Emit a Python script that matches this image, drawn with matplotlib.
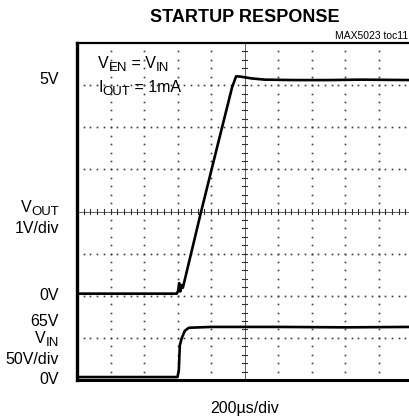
import matplotlib
matplotlib.use("Agg")
import matplotlib.pyplot as plt
import numpy as np

plt.rcParams['font.family'] = ['Liberation Sans', 'DejaVu Sans']

# Data in scope divisions (x: 200us/div, y: divisions from bottom)
vout_t = [0.0, 2.98, 3.02, 3.05, 3.08, 3.12, 3.16, 3.70, 4.24, 4.63, 4.75, 4.90, 5.20, 5.60, 6.5, 7.5, 8.5, 9.95]
vout_v = [2.05, 2.05, 2.12, 2.30, 2.10, 2.25, 2.19, 3.98, 5.71, 6.95, 7.21, 7.20, 7.16, 7.13, 7.12, 7.12, 7.13, 7.12]

vin_t = [0.0, 3.00, 3.04, 3.07, 3.13, 3.22, 3.34, 4.0, 6.0, 8.0, 9.95]
vin_v = [0.07, 0.07, 0.24, 0.83, 1.00, 1.17, 1.24, 1.26, 1.26, 1.25, 1.26]

W, H = 409, 417
fig = plt.figure(figsize=(W / 100, H / 100), dpi=100)
left, right, top, bottom = 77, 412, 43, 380
ax = fig.add_axes([left / W, (H - bottom) / H, (right - left) / W, (bottom - top) / H])
ax.set_xlim(0, 10)
ax.set_ylim(0, 8)
ax.set_xticks([])
ax.set_yticks([])
ax.spines['left'].set_linewidth(2.4)
ax.spines['bottom'].set_linewidth(2.2)
ax.spines['top'].set_linewidth(1.6)
ax.spines['right'].set_visible(False)

# dotted graticule
gc = '#3a3a3a'
for xv in range(1, 10):
    if xv == 5:
        continue
    ys = np.arange(1, 40) * 0.2
    ax.plot(np.full_like(ys, xv), ys, ls='none', marker='s', ms=1.2, mew=0, color=gc)
for yv in range(1, 8):
    if yv == 4:
        continue
    xs = np.arange(1, 50) * 0.2
    ax.plot(xs, np.full_like(xs, yv), ls='none', marker='s', ms=1.2, mew=0, color=gc)

# center cross with minor ticks
ax.plot([0, 10], [4, 4], color='#606060', lw=0.7)
ax.plot([5, 5], [0, 8], color='#606060', lw=0.7)
for k in range(1, 50):
    x = k * 0.2
    ax.plot([x, x], [4 - 0.06, 4 + 0.06], color='#303030', lw=0.8)
for k in range(1, 40):
    y = k * 0.2
    ax.plot([5 - 0.08, 5 + 0.08], [y, y], color='#303030', lw=0.8)

# traces
ax.plot(vout_t, vout_v, color='black', lw=1.9, solid_joinstyle='round')
ax.plot(vin_t, vin_v, color='black', lw=1.9, solid_joinstyle='round')

renderer = fig.canvas.get_renderer()

def px(x, y):
    return x / W, 1 - y / H

def seq_text(x, y_base, parts, align='left'):
    """parts: list of (text, fontsize, dy_pixels_down). y_base is the baseline in pixels."""
    widths = []
    for t, s, dy in parts:
        tt = fig.text(0, 0, t, fontsize=s)
        widths.append(tt.get_window_extent(renderer).width)
        tt.remove()
    total = sum(widths)
    cx = x - total if align == 'right' else x
    for (t, s, dy), w in zip(parts, widths):
        fig.text(*px(cx, y_base + dy), t, fontsize=s, ha='left', va='baseline')
        cx += w

fs = 11.5
sub = 9.5
fig.text(*px(245, 18), 'STARTUP RESPONSE', ha='center', va='center', fontsize=13,
         fontweight='bold')
fig.text(*px(408, 36), 'MAX5023 toc11', ha='right', va='center', fontsize=7.5)

fig.text(*px(59, 80), '5V', ha='right', va='center', fontsize=fs)
seq_text(59, 212, [('V', fs, 0), ('OUT', sub, 3)], align='right')
fig.text(*px(59, 228), '1V/div', ha='right', va='center', fontsize=fs)
fig.text(*px(59, 296), '0V', ha='right', va='center', fontsize=fs)
fig.text(*px(59, 321), '65V', ha='right', va='center', fontsize=fs)
seq_text(59, 343, [('V', fs, 0), ('IN', sub, 3)], align='right')
fig.text(*px(59, 359), '50V/div', ha='right', va='center', fontsize=fs)
fig.text(*px(59, 379), '0V', ha='right', va='center', fontsize=fs)

seq_text(98, 68, [('V', fs, 0), ('EN', sub, 3), (' = V', fs, 0), ('IN', sub, 3)])
seq_text(98, 92, [('I', fs, 0), ('OUT', sub, 3), (' = 1mA', fs, 0)])

fig.text(*px(245, 408), '200µs/div', ha='center', va='center', fontsize=fs)

fig.savefig('out.png', dpi=100)
